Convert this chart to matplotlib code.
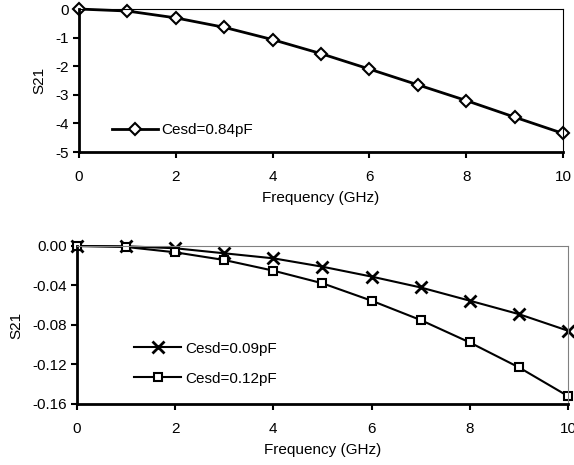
import numpy as np
import matplotlib.pyplot as plt

plt.rcParams['font.family'] = ['Liberation Sans', 'DejaVu Sans']
plt.rcParams['axes.unicode_minus'] = False

freq = [0, 1, 2, 3, 4, 5, 6, 7, 8, 9, 10]
s21_084 = [0, -0.07, -0.31, -0.64, -1.07, -1.56, -2.10, -2.65, -3.20, -3.78, -4.35]
s21_009 = [0, -0.0003, -0.0023, -0.0074, -0.0125, -0.021, -0.031, -0.042, -0.0554, -0.069, -0.0858]
s21_012 = [0, -0.001, -0.0064, -0.0142, -0.025, -0.0378, -0.0554, -0.075, -0.0977, -0.1229, -0.152]

fig = plt.figure(figsize=(5.74, 4.65), dpi=100)

def style(ax, edge):
    ax.spines['left'].set_linewidth(2)
    ax.spines['bottom'].set_linewidth(2)
    for s in ['top', 'right']:
        ax.spines[s].set_linewidth(0.8)
        ax.spines[s].set_color(edge)
    ax.tick_params(axis='x', direction='out', length=4, width=1.5, labelsize=11, pad=9)
    ax.tick_params(axis='y', direction='out', length=4, width=1.5, labelsize=11, pad=3)
    ax.set_xlim(0, 10)
    ax.set_xticks([0, 2, 4, 6, 8, 10])
    ax.set_xlabel('Frequency (GHz)', fontsize=11, labelpad=5)

# top chart
ax1 = fig.add_axes([0.1376, 0.6731, 0.8432, 0.3075])
ax1.plot(freq, s21_084, color='black', lw=2, marker='D', ms=6,
         mfc='white', mec='black', mew=1.5, label='Cesd=0.84pF', clip_on=False)
ax1.set_ylim(-5, 0)
ax1.set_yticks([0, -1, -2, -3, -4, -5])
style(ax1, 'black')
ax1.set_ylabel('S21', fontsize=11, labelpad=7)
ax1.legend(loc='center left', bbox_to_anchor=(0.068, 0.154), frameon=False,
           borderpad=0, borderaxespad=0, handlelength=3.0, handletextpad=0.25,
           fontsize=11)

# bottom chart
ax2 = fig.add_axes([0.1341, 0.1312, 0.8554, 0.3398])
ax2.plot(freq, s21_009, color='black', lw=1.5, marker='x', ms=9,
         mew=2, label='Cesd=0.09pF', clip_on=False)
ax2.plot(freq, s21_012, color='black', lw=1.5, marker='s', ms=6,
         mfc='white', mec='black', mew=1.5, label='Cesd=0.12pF', clip_on=False)
ax2.set_ylim(-0.16, 0)
ax2.set_yticks([0, -0.04, -0.08, -0.12, -0.16])
ax2.set_yticklabels(['0.00', '-0.04', '-0.08', '-0.12', '-0.16'])
style(ax2, '#808080')
ax2.set_ylabel('S21', fontsize=11, labelpad=7)
ax2.legend(loc='center left', bbox_to_anchor=(0.116, 0.256), frameon=False,
           borderpad=0, borderaxespad=0, handlelength=3.1, handletextpad=0.25,
           labelspacing=1.05, fontsize=11)

fig.savefig('out.png', dpi=100)
